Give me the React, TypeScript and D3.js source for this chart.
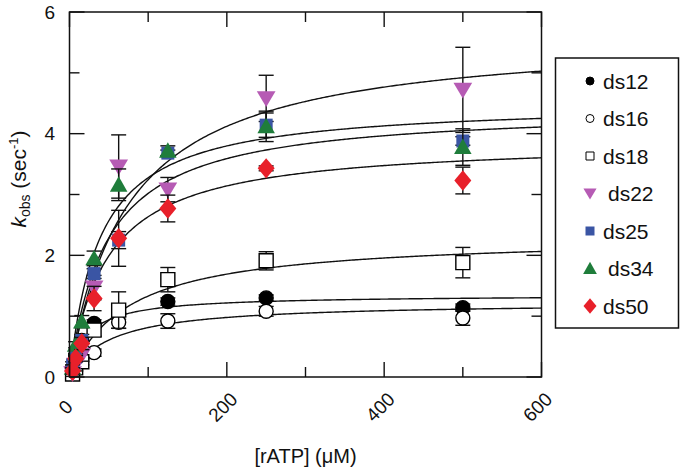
import React from 'react';
import * as d3 from 'd3';

// ---------- data ----------
const concentrations = [3.9, 7.8, 15.6, 31.25, 62.5, 125, 250, 500];
const seriesNames = ['ds12', 'ds16', 'ds18', 'ds22', 'ds25', 'ds34', 'ds50'];

const ds12 = [0.15, 0.35, 0.6, 0.88, 1.05, 1.24, 1.3, 1.14];
const ds16 = [0.1, 0.2, 0.3, 0.4, 0.9, 0.92, 1.08, 0.97];
const ds18 = [0.05, 0.15, 0.25, 0.77, 1.1, 1.6, 1.91, 1.88];
const ds22 = [0.06, 0.2, 0.36, 1.47, 3.46, 3.08, 4.58, 4.72];
const ds25 = [0.2, 0.33, 0.6, 1.7, 2.25, 3.68, 4.14, 3.88];
const ds34 = [0.15, 0.53, 0.91, 1.95, 3.16, 3.72, 4.12, 3.78];
const ds50 = [0.1, 0.3, 0.55, 1.29, 2.28, 2.77, 3.43, 3.23];

const ds12Err = [0.02, 0.03, 0.05, 0.06, 0.1, 0.06, 0.05, 0.06];
const ds16Err = [0.02, 0.03, 0.05, 0.06, 0.1, 0.12, 0.08, 0.12];
const ds18Err = [0.03, 0.05, 0.05, 0.1, 0.3, 0.2, 0.15, 0.25];
const ds22Err = [0.05, 0.1, 0.1, 0.2, 0.52, 0.2, 0.38, 0.7];
const ds25Err = [0.05, 0.05, 0.1, 0.08, 0.14, 0.05, 0.2, 0.07];
const ds34Err = [0.05, 0.05, 0.1, 0.12, 0.26, 0.08, 0.25, 0.3];
const ds50Err = [0.05, 0.05, 0.1, 0.2, 0.46, 0.22, 0.04, 0.22];

// Michaelis-Menten fit parameters (kmax, K1/2)
const fitVmax = [1.35, 1.23, 2.32, 5.65, 4.43, 4.52, 3.89];
const fitKm = [21.8, 51.3, 74.4, 74.2, 46.8, 38, 47.7];

const xTickLabels = [0, 200, 400, 600];
const xMinorTicks = [100, 300, 500];
const yTickLabels = [0, 2, 4, 6];
const yMinorTicks = [1, 3, 5];

const values = [ds12, ds16, ds18, ds22, ds25, ds34, ds50];
const errors = [ds12Err, ds16Err, ds18Err, ds22Err, ds25Err, ds34Err, ds50Err];

// ---------- styles ----------
const styles = [
  { shape: 'circle', fill: '#000', stroke: '#000' },
  { shape: 'circle', fill: '#fff', stroke: '#000' },
  { shape: 'square', fill: '#fff', stroke: '#000' },
  { shape: 'down', fill: '#B65BB4', stroke: 'none' },
  { shape: 'square', fill: '#3A55A4', stroke: 'none' },
  { shape: 'up', fill: '#1F7D3B', stroke: 'none' },
  { shape: 'diamond', fill: '#E8202A', stroke: 'none' },
];

function markerPath(shape: string, s: number) {
  switch (shape) {
    case 'circle': {
      const r = s / 2;
      return `M${r},0A${r},${r},0,1,1,${-r},0A${r},${r},0,1,1,${r},0Z`;
    }
    case 'square': {
      const h = s / 2;
      return `M${-h},${-h}H${h}V${h}H${-h}Z`;
    }
    case 'up': {
      const w = s * 1.25, h = s * 1.1;
      return `M0,${-h * 0.55}L${w / 2},${h * 0.45}L${-w / 2},${h * 0.45}Z`;
    }
    case 'down': {
      const w = s * 1.25, h = s * 1.05;
      return `M0,${h * 0.55}L${w / 2},${-h * 0.45}L${-w / 2},${-h * 0.45}Z`;
    }
    case 'diamond': {
      const w = s * 0.5, h = s * 0.6;
      return `M0,${-h}L${w},0L0,${h}L${-w},0Z`;
    }
  }
  return '';
}

const plotSizes = [14, 14, 14, 15, 13, 14, 17];
const legendSizes = [8, 8, 8, 10.5, 9, 11, 13];

// ---------- layout ----------
const W = 683, H = 471;
const left = 69.5, right = 541.5, top = 12, bottom = 377;

export default function App() {
  const x = d3.scaleLinear().domain([0, 600]).range([left, right]);
  const y = d3.scaleLinear().domain([0, 6]).range([bottom, top]);
  const curveX = d3.range(0, 601, 2);
  const line = d3.line<number>().x((d) => x(d[0])).y((d) => y(d[1]));
  const font = 'Liberation Sans, Arial, Helvetica, sans-serif';
  const capW = 7.5;

  return (
    <svg width={W} height={H} style={{ position: 'absolute', left: 0, top: 0, background: '#fff' }} fontFamily={font}>
      <defs>
        <clipPath id="plotclip">
          <rect x={left} y={top} width={right - left} height={bottom - top} />
        </clipPath>
      </defs>

      {/* fitted curves */}
      <g clipPath="url(#plotclip)" fill="none" stroke="#111" strokeWidth={1.4}>
        {seriesNames.map((n, i) => (
          <path key={n} d={line(curveX.map((c) => [c, (fitVmax[i] * c) / (fitKm[i] + c)]) as any) || ''} />
        ))}
      </g>

      {/* data with error bars */}
      {seriesNames.map((n, i) => (
        <g key={n}>
          {concentrations.map((c, j) => {
            const cx = x(c), v = values[i][j], e = errors[i][j];
            return (
              <g key={j} stroke="#111" strokeWidth={1.4}>
                <line x1={cx} x2={cx} y1={y(v + e)} y2={y(Math.max(0, v - e))} />
                <line x1={cx - capW} x2={cx + capW} y1={y(v + e)} y2={y(v + e)} />
                <line x1={cx - capW} x2={cx + capW} y1={y(Math.max(0, v - e))} y2={y(Math.max(0, v - e))} />
              </g>
            );
          })}
          {concentrations.map((c, j) => (
            <path
              key={'m' + j}
              d={markerPath(styles[i].shape, plotSizes[i])}
              transform={`translate(${x(c)},${y(values[i][j])})`}
              fill={styles[i].fill}
              stroke={styles[i].stroke}
              strokeWidth={1.4}
            />
          ))}
        </g>
      ))}

      {/* frame */}
      <rect x={left} y={top} width={right - left} height={bottom - top} fill="none" stroke="#111" strokeWidth={1.5} />

      {/* ticks */}
      <g stroke="#111" strokeWidth={1.4}>
        {xTickLabels.map((t) => (
          <g key={'xt' + t}>
            <line x1={x(t)} x2={x(t)} y1={bottom} y2={bottom - 15} />
            <line x1={x(t)} x2={x(t)} y1={top} y2={top + 15} />
          </g>
        ))}
        {xMinorTicks.map((t) => (
          <g key={'xm' + t}>
            <line x1={x(t)} x2={x(t)} y1={bottom} y2={bottom - 10} />
            <line x1={x(t)} x2={x(t)} y1={top} y2={top + 10} />
          </g>
        ))}
        {yTickLabels.map((t) => (
          <g key={'yt' + t}>
            <line x1={left} x2={left + 15} y1={y(t)} y2={y(t)} />
            <line x1={right} x2={right - 15} y1={y(t)} y2={y(t)} />
          </g>
        ))}
        {yMinorTicks.map((t) => (
          <g key={'ym' + t}>
            <line x1={left} x2={left + 10} y1={y(t)} y2={y(t)} />
            <line x1={right} x2={right - 10} y1={y(t)} y2={y(t)} />
          </g>
        ))}
      </g>

      {/* tick labels */}
      <g fontSize={19} fill="#111">
        {yTickLabels.map((t) => (
          <text key={'yl' + t} x={55} y={y(t)} dy="0.35em" textAnchor="end">{t}</text>
        ))}
        {xTickLabels.map((t) => (
          <text key={'xl' + t} transform={`translate(${x(t) - 4},${407}) rotate(-45)`} dy="0.35em" textAnchor="middle">{t}</text>
        ))}
      </g>

      {/* axis titles */}
      <text x={(left + right) / 2} y={463} fontSize={20} textAnchor="middle" fill="#111">[rATP] (μM)</text>
      <text transform="translate(26,179) rotate(-90)" fontSize={21} textAnchor="middle" fill="#111">
        <tspan fontStyle="italic">k</tspan>
        <tspan fontSize={14} dy={4}>obs</tspan>
        <tspan dy={-4}> (sec</tspan>
        <tspan fontSize={13} dy={-8}>-1</tspan>
        <tspan dy={8}>)</tspan>
      </text>

      {/* legend */}
      <rect x={555.5} y={58} width={123} height={270} fill="#fff" stroke="#111" strokeWidth={1.5} />
      {seriesNames.map((n, i) => {
        const ly = 81 + i * 37.5;
        const tx = styles[i].shape === 'up' || styles[i].shape === 'down' ? 608 : 603;
        return (
          <g key={'lg' + n}>
            <path
              d={markerPath(styles[i].shape, legendSizes[i])}
              transform={`translate(590,${ly})`}
              fill={styles[i].fill}
              stroke={styles[i].stroke}
              strokeWidth={1}
            />
            <text x={tx} y={ly} dy="0.36em" fontSize={21} fill="#111">{n}</text>
          </g>
        );
      })}
    </svg>
  );
}
